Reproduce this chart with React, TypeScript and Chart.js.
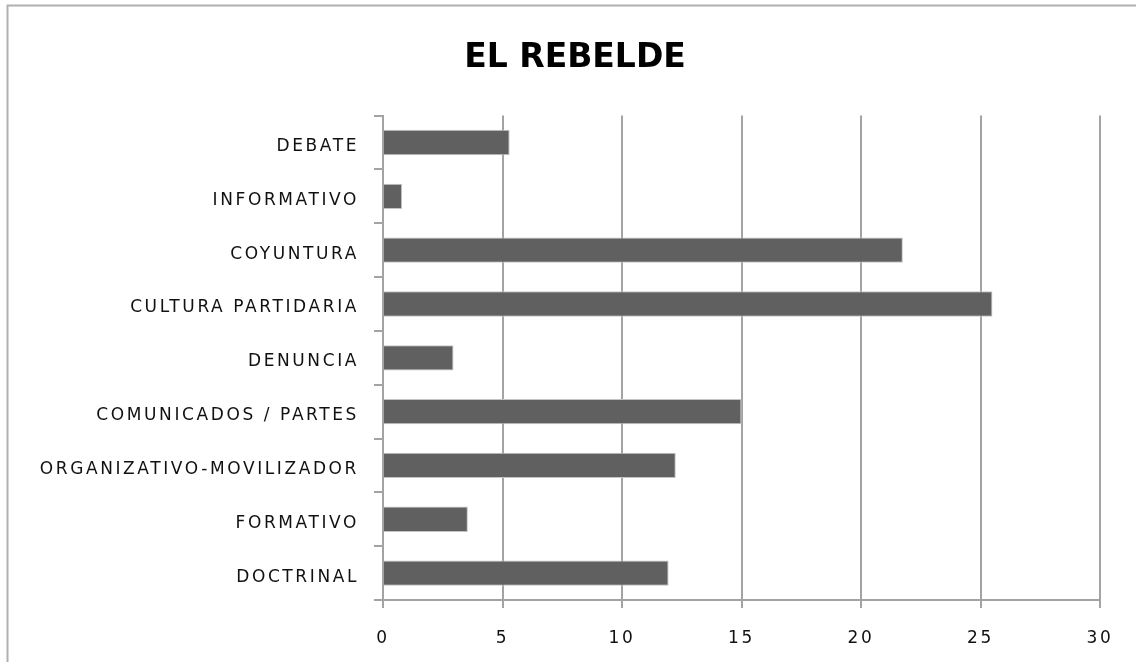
import { useEffect, useRef } from "react";
import { Chart, registerables } from "chart.js";

Chart.register(...registerables);

const TITLE = "EL REBELDE";
const CATEGORIES = [
  "DEBATE",
  "INFORMATIVO",
  "COYUNTURA",
  "CULTURA PARTIDARIA",
  "DENUNCIA",
  "COMUNICADOS / PARTES",
  "ORGANIZATIVO-MOVILIZADOR",
  "FORMATIVO",
  "DOCTRINAL",
];
const VALUES = [5.3, 0.8, 21.75, 25.5, 2.95, 15.0, 12.25, 3.55, 11.95];
const X_MIN = 0;
const X_MAX = 30;
const X_STEP = 5;

const FONT = "'DejaVu Sans', sans-serif";
const SPACING = "2.6px";
const GRID = "#a3a3a3";
const TITLE_SHIFT_X = 25;

const framePlugin = {
  id: "frame",
  beforeUpdate(chart: any) {
    chart.ctx.letterSpacing = SPACING;
  },
  afterLayout(chart: any) {
    const tb = chart.titleBlock;
    if (tb && !tb._patched) {
      const orig = tb.draw.bind(tb);
      tb.draw = (...args: any[]) => {
        const ctx = chart.ctx;
        ctx.save();
        ctx.letterSpacing = "0px";
        ctx.translate(TITLE_SHIFT_X, 0);
        orig(...args);
        ctx.restore();
      };
      tb._patched = true;
    }
  },
  beforeDraw(chart: any) {
    const ctx = chart.ctx;
    ctx.save();
    ctx.fillStyle = "#ffffff";
    ctx.fillRect(0, 0, chart.width, chart.height);
    ctx.strokeStyle = "#b0b0b0";
    ctx.lineWidth = 2;
    ctx.beginPath();
    ctx.moveTo(7.5, chart.height);
    ctx.lineTo(7.5, 5.5);
    ctx.lineTo(chart.width, 5.5);
    ctx.stroke();
    ctx.restore();
    ctx.letterSpacing = SPACING;
  },
};

export default function App() {
  const ref = useRef<HTMLCanvasElement | null>(null);

  useEffect(() => {
    if (!ref.current) return;
    const chart = new Chart(ref.current, {
      type: "bar",
      data: {
        labels: CATEGORIES,
        datasets: [
          {
            data: VALUES,
            backgroundColor: "#606060",
            borderColor: "#c4c4c4",
            borderWidth: 1,
            barPercentage: 0.47,
            categoryPercentage: 1,
          },
        ],
      },
      plugins: [framePlugin],
      options: {
        indexAxis: "y",
        animation: false,
        responsive: false,
        devicePixelRatio: 1,
        layout: { padding: { left: 0, right: 36, top: 0, bottom: 0 } },
        plugins: {
          legend: { display: false },
          tooltip: { enabled: false },
          title: {
            display: true,
            text: TITLE,
            color: "#000000",
            font: { family: FONT, size: 33, weight: "bold" },
            padding: { top: 39, bottom: 37 },
          },
        },
        scales: {
          x: {
            min: X_MIN,
            max: X_MAX,
            ticks: {
              stepSize: X_STEP,
              color: "#111111",
              font: { family: FONT, size: 17 },
              padding: 20,
            },
            grid: { color: GRID, lineWidth: 2, tickLength: 8 },
            border: { color: GRID, width: 2 },
            afterFit(s: any) {
              s.height = 62;
            },
          },
          y: {
            ticks: {
              color: "#111111",
              font: { family: FONT, size: 17 },
              padding: 15,
              labelOffset: 4,
            },
            grid: {
              drawOnChartArea: false,
              color: GRID,
              lineWidth: 2,
              tickLength: 9,
              offset: true,
            },
            border: { color: GRID, width: 2 },
            afterFit(s: any) {
              s.width = 383;
            },
          },
        },
      },
    } as any);
    return () => chart.destroy();
  }, []);

  return (
    <div style={{ position: "fixed", left: 0, top: 0, width: 1136, height: 662, background: "#fff" }}>
      <canvas ref={ref} width={1136} height={662} />
    </div>
  );
}
